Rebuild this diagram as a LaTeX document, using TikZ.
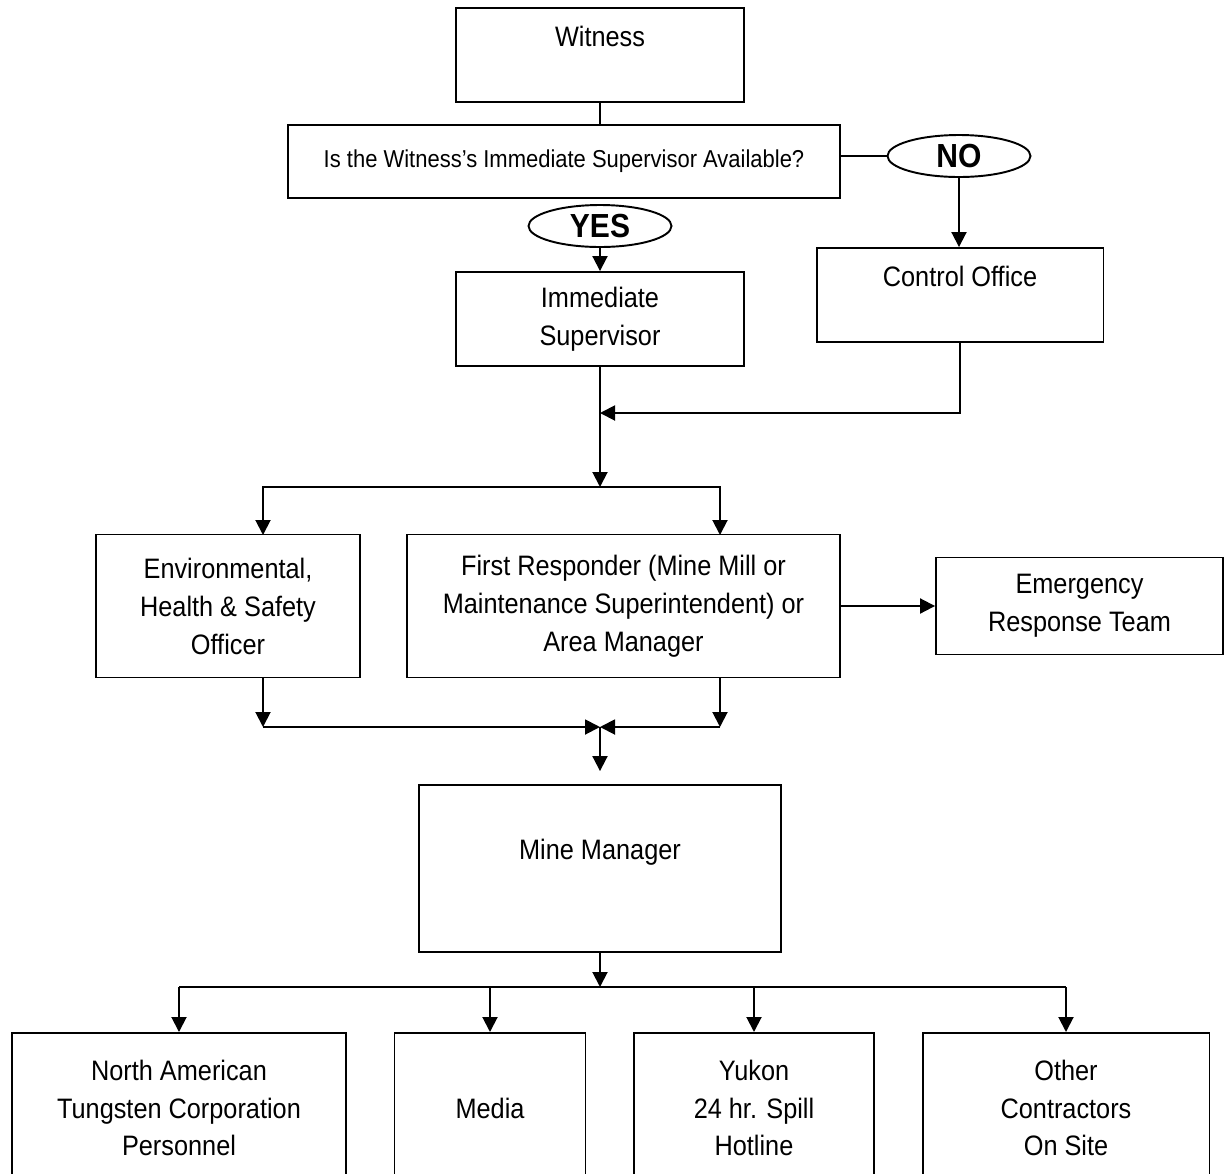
\documentclass[tikz,border=0pt]{standalone}
\usepackage{fontspec}
\setmainfont{Liberation Sans}[FakeStretch=0.9]
\usetikzlibrary{arrows.meta, shapes.geometric}

\begin{document}
\begin{tikzpicture}[x=0.02cm, y=-0.02cm, line width=1.1pt,
  >={Triangle[length=0.3cm, width=0.3cm]},
  box/.style={draw, rectangle, align=center, inner sep=0pt,
    font=\fontsize{16}{21.6}\selectfont},
  oval/.style={draw, ellipse, fill=white, inner sep=0pt,
    minimum width=2.86cm, minimum height=0.84cm,
    font=\fontsize{19}{22}\selectfont\bfseries}]
  \useasboundingbox (0,0) rectangle (1225,1174);

  % top part
  \node[box, minimum width=5.76cm, minimum height=1.88cm] (wit) at (600,55) {Witness\\\mbox{}};
  \node[box, minimum width=11.04cm, minimum height=1.46cm, font=\fontsize{13.9}{16}\selectfont] (qst) at (564,161.5)
    {Is the Witness’s Immediate Supervisor Available?};
  \node[oval] (no) at (959,156) {NO};
  \node[oval] (yes) at (600,226) {YES};
  \node[box, minimum width=5.76cm, minimum height=1.88cm] (sup) at (600,319) {Immediate\\Supervisor};
  \node[box, minimum width=5.74cm, minimum height=1.88cm] (ctl) at (960,295) {Control Office\\\mbox{}};

  \draw (wit.south) -- (wit.south |- qst.north);
  \draw (qst.east |- no.west) -- (no.west);
  \draw[->] (no.south) -- (no.south |- ctl.north);
  \draw[->] (yes) -- (sup);

  % merge below supervisor
  \coordinate (j1) at (600,413);
  \coordinate (j2) at (600,487);
  \coordinate (envIn) at (263,535);
  \coordinate (frIn) at (720,535);
  \draw[->] (ctl.south) |- (j1);
  \draw[->] (sup) -- (j2);
  \draw[->] (j2) -| (envIn);
  \draw[->] (j2) -| (frIn);

  % middle row
  \node[box, minimum width=5.28cm, minimum height=2.86cm] (env) at (228,606)
    {Environmental,\\Health \& Safety\\Officer};
  \node[box, minimum width=8.66cm, minimum height=2.86cm] (fr) at (623.5,606)
    {First Responder (Mine Mill or\\Maintenance Superintendent) or\\Area Manager};
  \node[box, minimum width=5.74cm, minimum height=1.94cm] (ert) at (1079.5,606)
    {Emergency\\Response Team};
  \draw[->] (fr) -- (ert);

  \coordinate (envOut) at (263,678);
  \coordinate (frOut) at (720,678);
  \coordinate (lj) at (263,727);
  \coordinate (rj) at (720,727);
  \coordinate (mj) at (600,727);
  \draw[->] (envOut) -- (lj);
  \draw[->] (frOut) -- (rj);
  \draw[->] (lj) -- (mj);
  \draw[->] (rj) -- (mj);

  \node[box, minimum width=7.24cm, minimum height=3.34cm] (mm) at (600,868.5) {Mine Manager\\\mbox{}};
  \draw[->, shorten >=0.26cm] (mj) -- (mm);

  % bottom row
  \tikzset{leaf/.style={box, anchor=north, minimum height=3cm}}
  \node[leaf, minimum width=6.68cm] (natc) at (179,1032)
    {North American\\Tungsten Corporation\\Personnel};
  \node[leaf, minimum width=3.82cm] (media) at (490,1032) {Media};
  \node[leaf, minimum width=4.8cm] (yukon) at (754,1032) {Yukon\\24 hr. Spill\\Hotline};
  \node[leaf, minimum width=5.74cm] (other) at (1066,1032) {Other\\Contractors\\On Site};

  \coordinate (bj) at (600,987);
  \draw[->] (mm) -- (bj);
  \draw (natc.north |- bj) -- (other.north |- bj);
  \foreach \n in {natc, media, yukon, other}
    \draw[->] (\n.north |- bj) -- (\n.north);
\end{tikzpicture}
\end{document}
